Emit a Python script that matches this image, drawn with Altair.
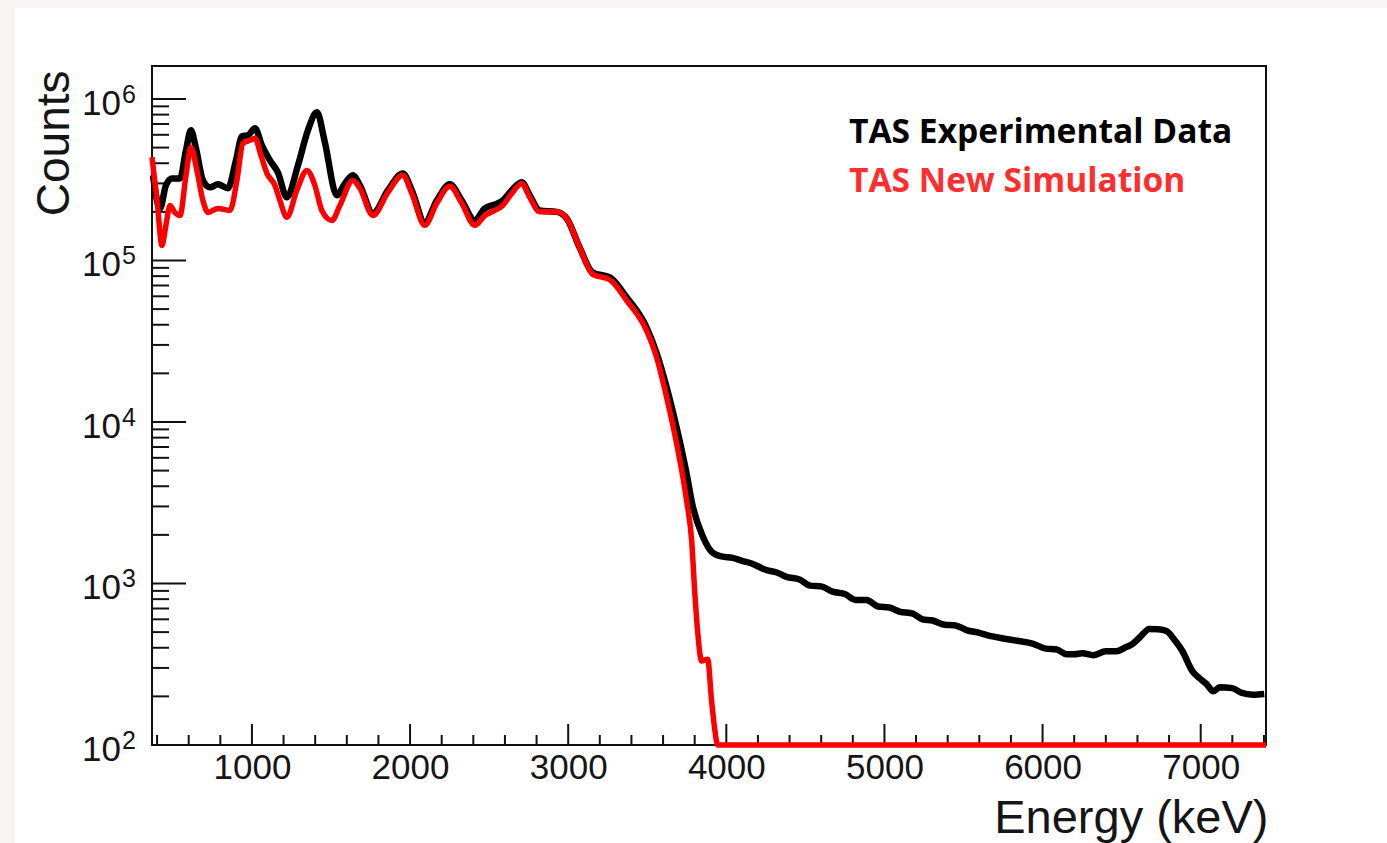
import altair as alt
import pandas as pd

# ---- data (Energy in keV, Counts) ----
exp_energy = [374, 419, 456, 494, 545, 583, 614, 646, 690, 735, 785, 848, 899, 937, 975,
              1019, 1063, 1114, 1164, 1221, 1291, 1354, 1411, 1461, 1537, 1588, 1638, 1683,
              1765, 1860, 1954, 2011, 2093, 2169, 2251, 2327, 2409, 2473, 2536, 2586, 2643,
              2706, 2757, 2820, 2928, 2991, 3073, 3155, 3263, 3370, 3496, 3560, 3623, 3686,
              3749, 3787, 3850, 3914, 3970, 4040, 4100, 4160, 4255, 4320, 4380, 4463, 4530,
              4600, 4672, 4750, 4820, 4887, 4960, 5030, 5095, 5180, 5240, 5304, 5380, 5450,
              5519, 5600, 5683, 5760, 5850, 5936, 6020, 6090, 6151, 6200, 6252, 6320, 6400,
              6467, 6520, 6568, 6620, 6675, 6730, 6783, 6840, 6884, 6947, 6990, 7036, 7080,
              7120, 7200, 7260, 7330, 7402]
exp_counts = [3.37e5, 2.10e5, 2.92e5, 3.22e5, 3.22e5, 4.81e5, 6.40e5, 4.95e5, 3.13e5, 2.84e5,
              2.96e5, 2.80e5, 4.17e5, 5.87e5, 5.96e5, 6.58e5, 5.16e5, 4.17e5, 3.51e5, 2.46e5,
              3.88e5, 6.40e5, 8.27e5, 5.40e5, 2.53e5, 3.00e5, 3.37e5, 2.92e5, 1.96e5, 2.72e5,
              3.46e5, 2.72e5, 1.72e5, 2.35e5, 2.96e5, 2.35e5, 1.77e5, 2.10e5, 2.22e5, 2.35e5,
              2.72e5, 3.05e5, 2.53e5, 2.04e5, 2.00e5, 1.82e5, 1.20e5, 8.4e4, 7.85e4, 5.90e4,
              3.84e4, 2.65e4, 1.63e4, 9.2e3, 4.78e3, 3.03e3, 1.97e3, 1550, 1470, 1440, 1380,
              1330, 1210, 1170, 1100, 1060, 970, 960, 890, 860, 790, 790, 720, 710, 670, 650,
              600, 590, 555, 550, 515, 495, 470, 455, 440, 425, 395, 390, 365, 365, 370, 360,
              380, 380, 400, 422, 470, 523, 520, 508, 440, 382, 287, 260, 239, 215, 228, 225,
              210, 205, 207]

sim_energy = [368, 400, 431, 456, 482, 513, 545, 583, 614, 652, 690, 722, 785, 861, 905, 943,
              987, 1019, 1057, 1095, 1145, 1177, 1221, 1284, 1348, 1398, 1442, 1506, 1556,
              1638, 1683, 1765, 1860, 1954, 2011, 2093, 2169, 2251, 2327, 2409, 2473, 2536,
              2586, 2643, 2706, 2757, 2820, 2928, 2991, 3073, 3155, 3263, 3370, 3496, 3560,
              3598, 3642, 3686, 3749, 3781, 3800, 3819, 3844, 3882, 3907, 3926, 3945, 7413]
sim_counts = [4.35e5, 2.35e5, 1.24e5, 1.65e5, 2.19e5, 1.98e5, 1.90e5, 3.37e5, 5.02e5, 3.61e5,
              2.35e5, 1.985e5, 2.10e5, 2.04e5, 3.13e5, 5.31e5, 5.55e5, 5.71e5, 4.48e5, 3.46e5,
              2.92e5, 2.35e5, 1.85e5, 2.72e5, 3.61e5, 2.92e5, 2.04e5, 1.77e5, 2.19e5, 3.13e5,
              2.80e5, 1.90e5, 2.64e5, 3.37e5, 2.60e5, 1.65e5, 2.26e5, 2.88e5, 2.26e5, 1.65e5,
              1.90e5, 2.04e5, 2.19e5, 2.60e5, 3.00e5, 2.46e5, 2.00e5, 2.00e5, 1.82e5, 1.20e5,
              8.2e4, 7.6e4, 5.65e4, 3.68e4, 2.50e4, 1.80e4, 1.17e4, 7.34e3, 3.25e3, 1.84e3,
              900, 500, 331, 340, 187, 127, 100, 100]

x_major = [1000, 2000, 3000, 4000, 5000, 6000, 7000]
x_minor = [e for e in range(400, 7401, 200) if e % 1000 != 0]
y_exponents = [2, 3, 4, 5, 6]
y_major = [10 ** k for k in y_exponents]
y_minor = [m * 10 ** k for k in range(2, 6) for m in range(2, 10)]

legend_labels = ["TAS Experimental Data", "TAS New Simulation"]

W, H = 1114, 679
xscale = alt.Scale(domain=[368, 7413], nice=False, zero=False)
yscale = alt.Scale(type="log", domain=[100, 1.6e6], nice=False)

exp_df = pd.DataFrame({"energy": exp_energy, "counts": exp_counts})
sim_df = pd.DataFrame({"energy": sim_energy, "counts": sim_counts})
ylab_df = pd.DataFrame({"v": y_major, "base": ["10"] * 5, "exp": [str(k) for k in y_exponents]})

LABEL_FONT = "Liberation Sans"

card = alt.Chart(pd.DataFrame({"d": [0]})).mark_rect(color="white").encode(
    x=alt.value(-138), x2=alt.value(1235), y=alt.value(-58), y2=alt.value(777))

frame = alt.Chart(pd.DataFrame({"d": [0]})).mark_rect(
    fillOpacity=0, stroke="#111111", strokeWidth=2).encode(
    x=alt.value(0), x2=alt.value(W), y=alt.value(0), y2=alt.value(H))

ytick_major = alt.Chart(pd.DataFrame({"v": y_major})).mark_rule(color="#111111", strokeWidth=2).encode(
    y=alt.Y("v:Q", scale=yscale), x=alt.value(0), x2=alt.value(34))
ytick_minor = alt.Chart(pd.DataFrame({"v": y_minor})).mark_rule(color="#111111", strokeWidth=2).encode(
    y=alt.Y("v:Q", scale=yscale), x=alt.value(0), x2=alt.value(17))
xtick_major = alt.Chart(pd.DataFrame({"v": x_major})).mark_rule(color="#111111", strokeWidth=2).encode(
    x=alt.X("v:Q", scale=xscale), y=alt.value(H), y2=alt.value(H - 21))
xtick_minor = alt.Chart(pd.DataFrame({"v": x_minor})).mark_rule(color="#111111", strokeWidth=2).encode(
    x=alt.X("v:Q", scale=xscale), y=alt.value(H), y2=alt.value(H - 10))

exp_line = alt.Chart(exp_df).mark_line(color="#000000", strokeWidth=6.5, interpolate="monotone").encode(
    x=alt.X("energy:Q", scale=xscale,
            axis=alt.Axis(values=x_major, title="Energy (keV)", ticks=False, domain=False, grid=False,
                          labelFont=LABEL_FONT, labelFontSize=35, labelColor="#151515",
                          labelPadding=5, format="d", zindex=1,
                          titleFont=LABEL_FONT, titleFontSize=47, titleFontWeight="normal",
                          titleColor="#151515", titleX=W + 2, titleY=87, titleAlign="right",
                          titleBaseline="alphabetic", titleAnchor="end")),
    y=alt.Y("counts:Q", scale=yscale,
            axis=alt.Axis(labels=False, ticks=False, domain=False, grid=False, title="Counts",
                          zindex=1, titleFont=LABEL_FONT, titleFontSize=46, titleFontWeight="normal",
                          titleColor="#151515", titleAngle=270, titleX=-84, titleY=4,
                          titleAlign="right", titleBaseline="alphabetic")),
    order="energy:Q")

sim_line = alt.Chart(sim_df).mark_line(color="#ff0000", strokeWidth=5.5, interpolate="monotone").encode(
    x=alt.X("energy:Q", scale=xscale), y=alt.Y("counts:Q", scale=yscale), order="energy:Q")

ylab_base = alt.Chart(ylab_df).mark_text(
    font=LABEL_FONT, fontSize=35, align="right", baseline="alphabetic", dy=16, color="#151515").encode(
    y=alt.Y("v:Q", scale=yscale), x=alt.value(-31), text="base:N")
ylab_exp = alt.Chart(ylab_df).mark_text(
    font=LABEL_FONT, fontSize=25, align="left", baseline="alphabetic", dy=4, color="#151515").encode(
    y=alt.Y("v:Q", scale=yscale), x=alt.value(-30), text="exp:N")

leg1 = alt.Chart(pd.DataFrame({"d": [0]})).mark_text(
    font="Open Sans", fontSize=33.6, fontWeight="bold", align="left", baseline="alphabetic",
    color="#000000").encode(x=alt.value(697), y=alt.value(77), text=alt.value(legend_labels[0]))
leg2 = alt.Chart(pd.DataFrame({"d": [0]})).mark_text(
    font="Open Sans", fontSize=33.6, fontWeight="bold", align="left", baseline="alphabetic",
    color="#ff2e2e").encode(x=alt.value(697), y=alt.value(126), text=alt.value(legend_labels[1]))

chart = alt.layer(
    card, frame, ytick_major, ytick_minor, xtick_major, xtick_minor,
    exp_line, sim_line, ylab_base, ylab_exp, leg1, leg2
).properties(
    width=W, height=H,
    autosize=alt.AutoSizeParams(type="none"),
    padding={"left": 152, "top": 66, "right": 121, "bottom": 98},
    background="#f8f5f4",
).configure_view(stroke=None).resolve_scale(x="shared", y="shared")

chart.save("out.html", embed_options={"renderer": "svg", "actions": False})
